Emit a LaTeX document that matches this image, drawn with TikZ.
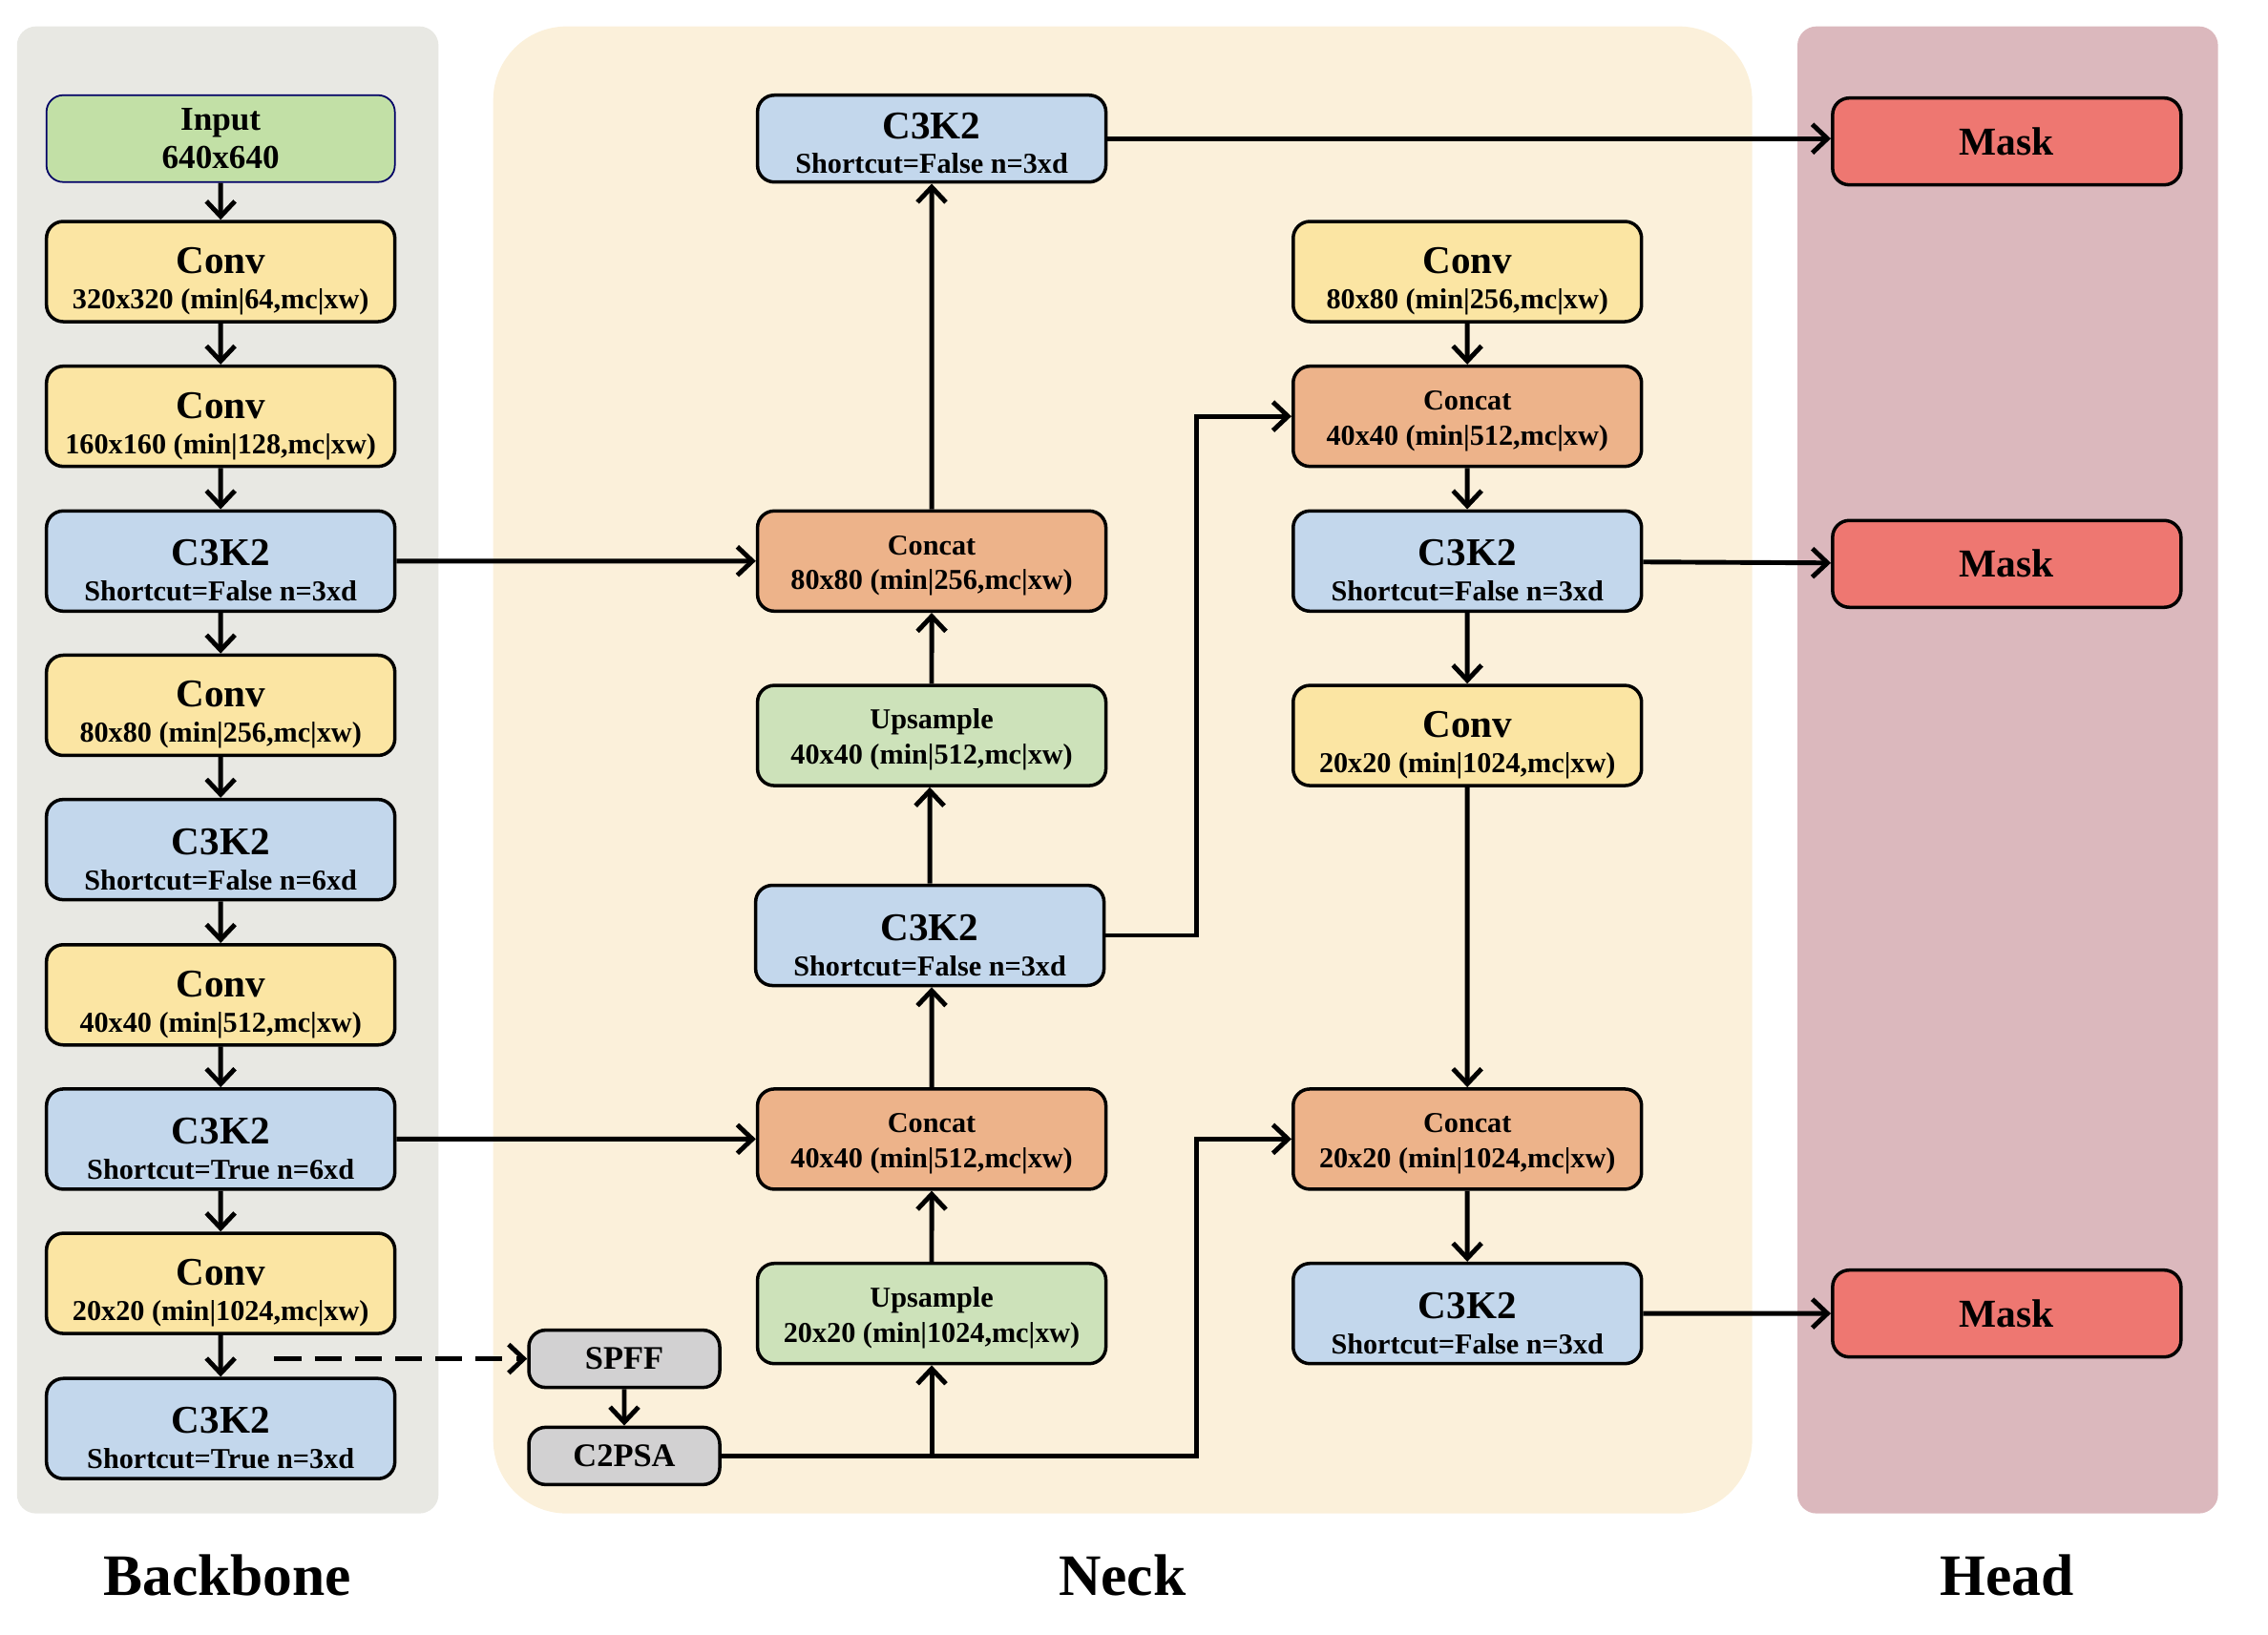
\documentclass[tikz,border=0pt]{standalone}
\usepackage{fontspec}
\setmainfont{Liberation Serif}
\usetikzlibrary{arrows.meta}

\definecolor{backcol}{HTML}{E8E8E3}
\definecolor{neckcol}{HTML}{FBF0DA}
\definecolor{headcol}{HTML}{DBB8BD}
\definecolor{inpcol}{HTML}{C2E0A6}
\definecolor{convcol}{HTML}{FBE5A3}
\definecolor{c3kcol}{HTML}{C3D7EC}
\definecolor{catcol}{HTML}{EDB38A}
\definecolor{upcol}{HTML}{CDE2BA}
\definecolor{spcol}{HTML}{D2D1D2}
\definecolor{maskcol}{HTML}{EE7771}

\newcommand{\hd}[2][13.5pt]{{\fontsize{11.7}{12}\selectfont\rule{0pt}{#1}#2}}
\newcommand{\tp}{\rule{0pt}{8.5pt}}

\begin{document}
\begin{tikzpicture}[scale=0.988,
    blk/.style = {draw, line width=1pt, rounded corners=5pt, minimum width=3.65cm, minimum height=1.05cm,
                  align=center, inner sep=1pt, font=\fontsize{8.6}{10.5}\selectfont\bfseries},
    conv/.style = {blk, fill=convcol},
    c3k/.style = {blk, fill=c3kcol},
    cat/.style = {blk, fill=catcol},
    up/.style = {blk, fill=upcol},
    small/.style = {blk, fill=spcol, minimum width=2cm, minimum height=0.6cm, font=\fontsize{9.8}{12}\selectfont\bfseries},
    mask/.style = {blk, fill=maskcol, minimum height=0.91cm, font=\fontsize{11.8}{14}\selectfont\bfseries},
    arr/.style = {line width=1.4pt, -{Straight Barb[length=4.5pt,width=8.5pt]}},
    lbl/.style = {font=\fontsize{17.5}{20}\selectfont\bfseries}
]
    \useasboundingbox (0,0) rectangle (24.05,-17.33);

    \fill[backcol, rounded corners=0.2cm] (0.18,-0.28) rectangle (4.65,-16.05);
    \fill[neckcol, rounded corners=0.77cm] (5.23,-0.28) rectangle (18.58,-16.05);
    \fill[headcol, rounded corners=0.2cm] (19.06,-0.28) rectangle (23.52,-16.05);

    \node[blk, fill=inpcol, draw=black!60!blue, line width=0.5pt, minimum height=0.91cm,
          font=\fontsize{10}{11.5}\selectfont\bfseries] (inp) at (2.34,-1.47) {Input\\640x640};
    \node[conv] (bconv1) at (2.34,-2.88) {\hd{Conv}\\320x320 (min|64,mc|xw)};
    \node[conv] (bconv2) at (2.34,-4.415) {\hd{Conv}\\160x160 (min|128,mc|xw)};
    \node[c3k] (bc3a) at (2.34,-5.95) {\hd{C3K2}\\Shortcut=False n=3xd};
    \node[conv] (bconv3) at (2.34,-7.48) {\hd{Conv}\\80x80 (min|256,mc|xw)};
    \node[c3k] (bc3b) at (2.34,-9.01) {\hd{C3K2}\\Shortcut=False n=6xd};
    \node[conv] (bconv4) at (2.34,-10.55) {\hd{Conv}\\40x40 (min|512,mc|xw)};
    \node[c3k] (bc3c) at (2.34,-12.08) {\hd{C3K2}\\Shortcut=True n=6xd};
    \node[conv] (bconv5) at (2.34,-13.61) {\hd{Conv}\\20x20 (min|1024,mc|xw)};
    \node[c3k] (bc3d) at (2.34,-15.15) {\hd{C3K2}\\Shortcut=True n=3xd};

    \draw[arr] (inp) -- (bconv1);
    \draw[arr] (bconv1) -- (bconv2);
    \draw[arr] (bconv2) -- (bc3a);
    \draw[arr] (bc3a) -- (bconv3);
    \draw[arr] (bconv3) -- (bc3b);
    \draw[arr] (bc3b) -- (bconv4);
    \draw[arr] (bconv4) -- (bc3c);
    \draw[arr] (bc3c) -- (bconv5);
    \draw[arr] (bconv5) -- (bc3d);

    \node[small] (spff) at (6.62,-14.41) {SPFF};
    \node[small] (c2psa) at (6.62,-15.44) {C2PSA};
    \coordinate (dsh) at (2.91,-14.41);
    \draw[arr, dash pattern=on 8pt off 4pt] (dsh) -- (spff.west);
    \draw[arr] (spff) -- (c2psa);

    \node[c3k, minimum height=0.91cm] (nc3top) at (9.88,-1.47) {\hd[10.5pt]{C3K2}\\Shortcut=False n=3xd};
    \node[cat] (ncat1) at (9.88,-5.95) {\tp Concat\\80x80 (min|256,mc|xw)};
    \node[up] (nup1) at (9.88,-7.80) {\tp Upsample\\40x40 (min|512,mc|xw)};
    \node[c3k] (nc3mid) at (9.86,-9.92) {\hd{C3K2}\\Shortcut=False n=3xd};
    \node[cat] (ncat2) at (9.88,-12.08) {\tp Concat\\40x40 (min|512,mc|xw)};
    \node[up] (nup2) at (9.88,-13.93) {\tp Upsample\\20x20 (min|1024,mc|xw)};

    \node[conv] (nconv1) at (15.56,-2.88) {\hd{Conv}\\80x80 (min|256,mc|xw)};
    \node[cat] (ncat3) at (15.56,-4.415) {\tp Concat\\40x40 (min|512,mc|xw)};
    \node[c3k] (nc3r1) at (15.56,-5.95) {\hd{C3K2}\\Shortcut=False n=3xd};
    \node[conv] (nconv2) at (15.56,-7.80) {\hd{Conv}\\20x20 (min|1024,mc|xw)};
    \node[cat] (ncat4) at (15.56,-12.08) {\tp Concat\\20x20 (min|1024,mc|xw)};
    \node[c3k] (nc3r2) at (15.56,-13.93) {\hd{C3K2}\\Shortcut=False n=3xd};

    \node[mask] (mask1) at (21.28,-1.50) {Mask};
    \node[mask] (mask2) at (21.28,-5.98) {Mask};
    \node[mask] (mask3) at (21.28,-13.93) {Mask};

    \draw[arr] (bc3a) -- (ncat1);
    \draw[arr] (bc3c) -- (ncat2);

    \coordinate (bend) at (12.69,-15.44);
    \draw[arr] (c2psa.east) -- (bend) |- (ncat4.west);
    \draw[arr] (c2psa.east -| nup2.south) -- (nup2.south);
    \draw[arr] (nup2) -- (ncat2);
    \draw[arr] (ncat2) -- (ncat2 |- nc3mid.south);
    \draw[arr] (nc3mid) -- (nc3mid |- nup1.south);
    \draw[arr] (nup1) -- (ncat1);
    \draw[arr] (ncat1) -- (nc3top);
    \draw[arr] (nc3mid.east) -- (nc3mid.east -| bend) |- (ncat3.west);

    \draw[arr] (nconv1) -- (ncat3);
    \draw[arr] (ncat3) -- (nc3r1);
    \draw[arr] (nc3r1) -- (nconv2);
    \draw[arr] (nconv2) -- (ncat4);
    \draw[arr] (ncat4) -- (nc3r2);

    \draw[arr] (nc3top.east) -- (nc3top.east -| mask1.west);
    \draw[arr] (nc3r1) -- (mask2);
    \draw[arr] (nc3r2) -- (mask3);

    \node[lbl] (lblback) at (2.41,-16.71) {Backbone};
    \node[lbl] (lblneck) at (11.9,-16.71) {Neck};
    \node[lbl] (lblhead) at (21.28,-16.71) {Head};
\end{tikzpicture}
\end{document}
